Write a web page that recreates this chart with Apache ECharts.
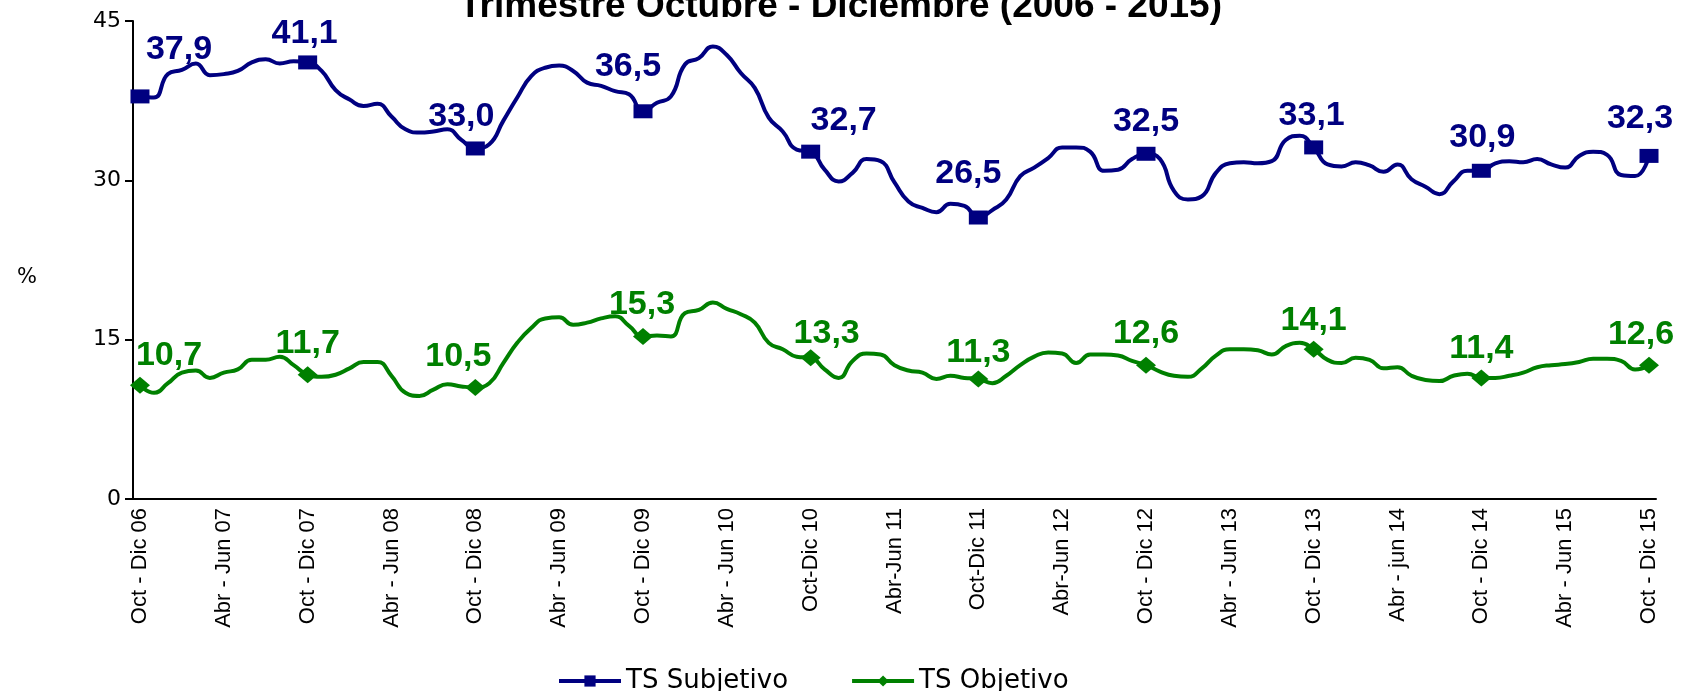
<!DOCTYPE html>
<html>
<head>
<meta charset="utf-8">
<script src="https://cdn.jsdelivr.net/npm/echarts@6/dist/echarts.min.js"></script>
<style>
  html, body { margin: 0; padding: 0; background: #fff; }
  #main { width: 1681px; height: 691px; }
</style>
</head>
<body>
<div id="main"></div>
<script>
// etiquetas visibles del eje X (una cada 6 trimestres móviles)
var tickLabels = [
  "Oct - Dic 06", "Abr - Jun 07", "Oct - Dic 07", "Abr - Jun 08", "Oct - Dic 08",
  "Abr - Jun 09", "Oct - Dic 09", "Abr - Jun 10", "Oct-Dic 10", "Abr-Jun 11",
  "Oct-Dic 11", "Abr-Jun 12", "Oct - Dic 12", "Abr - Jun 13", "Oct - Dic 13",
  "Abr - jun 14", "Oct - Dic 14", "Abr - Jun 15", "Oct - Dic 15"
];
var meses = ["Ene", "Feb", "Mar", "Abr", "May", "Jun", "Jul", "Ago", "Sep", "Oct", "Nov", "Dic"];

// TS Subjetivo (%), trimestres móviles Oct-Dic 06 ... Oct-Dic 15
var tsSubjetivo = [
  37.9, 37.8, 40.0, 40.4, 41.0, 39.9, 40.0, 40.3, 41.1, 41.4, 41.0, 41.2,
  41.1, 40.3, 38.5, 37.6, 37.0, 37.2, 36.0, 34.8, 34.5, 34.6, 34.8, 33.8,
  33.0, 33.4, 35.6, 37.8, 39.8, 40.6, 40.8, 40.3, 39.2, 38.9, 38.4, 38.1,
  36.5, 37.3, 37.9, 40.9, 41.5, 42.6, 41.8, 40.1, 38.7, 35.9, 34.6, 32.9,
  32.7, 31.0, 29.9, 30.7, 32.0, 31.8, 29.8, 28.0, 27.4, 27.0, 27.8, 27.6,
  26.5, 27.2, 28.2, 30.4, 31.2, 32.1, 33.1, 33.1, 32.7, 30.9, 31.0, 32.0,
  32.5, 32.0, 29.0, 28.2, 28.5, 30.7, 31.6, 31.7, 31.6, 31.8, 33.8, 34.2,
  33.1, 31.5, 31.3, 31.7, 31.4, 30.8, 31.5, 30.1, 29.4, 28.7, 29.9, 30.9,
  30.9, 31.6, 31.8, 31.7, 32.0, 31.5, 31.2, 32.3, 32.7, 32.4, 30.5, 30.4,
  32.3
];

// TS Objetivo (%)
var tsObjetivo = [
  10.7, 10.0, 10.9, 11.9, 12.1, 11.4, 11.9, 12.2, 13.1, 13.1, 13.4, 12.6,
  11.7, 11.5, 11.7, 12.3, 12.9, 12.9, 11.6, 10.0, 9.7, 10.3, 10.8, 10.6,
  10.5, 10.9, 12.8, 14.7, 16.1, 17.0, 17.1, 16.4, 16.6, 17.0, 17.2, 16.3,
  15.3, 15.4, 15.3, 17.5, 17.8, 18.5, 17.9, 17.4, 16.6, 14.7, 14.1, 13.4,
  13.3, 12.2, 11.4, 13.0, 13.7, 13.6, 12.6, 12.1, 11.9, 11.3, 11.6, 11.4,
  11.3, 10.9, 11.6, 12.6, 13.4, 13.8, 13.7, 12.8, 13.6, 13.6, 13.5, 13.0,
  12.6, 12.0, 11.6, 11.5, 12.3, 13.5, 14.1, 14.1, 14.0, 13.6, 14.4, 14.7,
  14.1, 13.1, 12.8, 13.3, 13.1, 12.3, 12.4, 11.6, 11.2, 11.1, 11.6, 11.8,
  11.4, 11.4, 11.6, 11.9, 12.4, 12.6, 12.7, 12.9, 13.2, 13.2, 13.0, 12.2,
  12.6
];

// categorías: trimestre móvil mensual; cada 6 se usa la etiqueta del gráfico
var categories = [];
for (var i = 0; i < tsSubjetivo.length; i++) {
  if (i % 6 === 0) {
    categories.push(tickLabels[i / 6]);
  } else {
    var m0 = (9 + i) % 12, m2 = (11 + i) % 12;
    var yy = 6 + Math.floor((11 + i) / 12);
    categories.push(meses[m0] + " - " + meses[m2] + " " + (yy < 10 ? "0" : "") + yy);
  }
}

// desplazamiento manual de las etiquetas de datos (como en el original)
var nudgeSub = [[39, -23], [-3, -5], [-14, -8], [-15, -21], [33, -7], [-10, -20], [0, -8], [-2, -8], [1, -9], [-9, -13]];
var nudgeObj = [[29, -4], [0, -6], [-17, -5], [-1, -6], [16, 1], [0, -1], [0, -6], [0, -3], [0, -4], [-8, -5]];

function buildData(values, nudge) {
  return values.map(function (v, idx) {
    if (idx % 12 === 0) {
      return { value: v, label: { show: true, offset: nudge[idx / 12] } };
    }
    return { value: v, symbol: "none" };
  });
}

var myChart = echarts.init(document.getElementById("main"));

var labelFont = {
  fontFamily: "Liberation Sans",
  fontWeight: "bold",
  fontSize: 34
};

var option = {
  animation: false,
  backgroundColor: "#fff",
  title: {
    text: "Trimestre Octubre - Diciembre (2006 - 2015)",
    left: "center",
    top: -17,
    textStyle: {
      fontFamily: "Liberation Sans",
      fontWeight: "bold",
      fontSize: 37,
      color: "#000"
    }
  },
  legend: {
    left: 552,
    top: 663,
    itemWidth: 62,
    itemHeight: 14,
    itemGap: 62,
    lineStyle: { width: 4 },
    textStyle: {
      fontFamily: "DejaVu Sans",
      fontSize: 26,
      color: "#000"
    },
    data: ["TS Subjetivo", "TS Objetivo"]
  },
  graphic: [
    {
      type: "text",
      left: 17,
      top: 267,
      style: { text: "%", fontFamily: "DejaVu Sans", fontSize: 21, fill: "#000" }
    }
  ],
  grid: {
    left: 133,
    right: 25,
    top: 21,
    bottom: 192
  },
  xAxis: {
    type: "category",
    data: categories,
    boundaryGap: true,
    axisLine: { lineStyle: { color: "#000", width: 2 } },
    axisTick: { interval: 7, length: 6, lineStyle: { color: "#000", width: 2 } },
    axisLabel: {
      interval: 5,
      rotate: 90,
      margin: 9,
      fontFamily: "Liberation Sans",
      fontSize: 22,
      color: "#000"
    },
    splitLine: { show: false }
  },
  yAxis: {
    type: "value",
    min: 0,
    max: 45,
    interval: 15,
    axisLine: { show: true, lineStyle: { color: "#000", width: 2 } },
    axisTick: { show: true, length: 8, lineStyle: { color: "#000", width: 2 } },
    axisLabel: {
      margin: 12,
      fontFamily: "DejaVu Sans",
      fontSize: 22,
      color: "#000"
    },
    splitLine: { show: false }
  },
  series: [
    {
      name: "TS Subjetivo",
      type: "line",
      smooth: 0.5,
      showAllSymbol: true,
      symbol: "rect",
      symbolSize: [19, 14],
      color: "#000080",
      lineStyle: { width: 4, color: "#000080" },
      itemStyle: { color: "#000080" },
      label: Object.assign({
        show: false,
        position: "top",
        distance: 0,
        color: "#000080",
        formatter: function (p) { return p.value.toFixed(1).replace(".", ","); }
      }, labelFont),
      data: buildData(tsSubjetivo, nudgeSub),
      z: 3
    },
    {
      name: "TS Objetivo",
      type: "line",
      smooth: 0.5,
      showAllSymbol: true,
      symbol: "diamond",
      symbolSize: [20, 17],
      color: "#008000",
      lineStyle: { width: 4, color: "#008000" },
      itemStyle: { color: "#008000" },
      label: Object.assign({
        show: false,
        position: "top",
        distance: 0,
        color: "#008000",
        formatter: function (p) { return p.value.toFixed(1).replace(".", ","); }
      }, labelFont),
      data: buildData(tsObjetivo, nudgeObj),
      z: 2
    }
  ]
};

// dibujar el gráfico
myChart.setOption(option);
</script>
</body>
</html>
